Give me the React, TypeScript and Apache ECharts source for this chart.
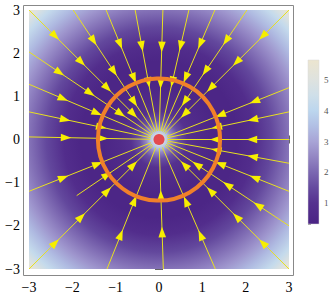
import React, { useEffect, useRef } from "react";
import * as echarts from "echarts";

// ---- data ----
const axisMin = -3;
const axisMax = 3;
// radial profile of the density (distance from the charge -> value)
const profileRadius = [0, 0.1, 0.2, 0.3, 0.45, 0.65, 0.9, 1.3, 1.8, 2.2, 2.6, 3.0, 3.3, 3.6, 3.9, 4.1, 4.243];
const profileValue = [5.6, 5.0, 3.6, 2.5, 1.6, 1.0, 0.7, 0.45, 0.45, 0.8, 1.45, 2.2, 2.75, 3.4, 4.2, 5.0, 5.6];
// colour scale of the legend
const colorValues = [0.32, 1, 1.5, 2, 2.5, 3, 3.5, 4, 4.5, 5, 5.65];
const colorList = ["#4a2384", "#55318f", "#654a9f", "#7b67b1", "#9386c3", "#a8a4d6", "#b1bfe4", "#bcd6ee", "#cfdfe9", "#dee2df", "#ece5cf"];
const legendMin = 0.32;
const legendMax = 5.65;
// stream lines: start points (all flow toward the charge at the origin)
const streamStartX = [-3, -1.98, -1.22, -0.55, 0.09, 0.69, 1.29, 2.03, 3, -3, -3, -3, -3, -3, -3, 3, 3, 3, 3, 3, 3, 3, -1.2, 0.1, 1.3, -1.9];
const streamStartY = [3, 3, 3, 3, 3, 3, 3, 3, 3, 2.03, 1.28, 0.64, 0.06, -1.2, -3, 1.2, 0.64, 0.0, -0.55, -1.2, -2.0, -3, -3, -3, -3, -1.3];
const circleRadius = [1.41];
const chargeX = [0];
const chargeY = [0];

function hexToRgb(h: string) {
  const n = parseInt(h.slice(1), 16);
  return [(n >> 16) & 255, (n >> 8) & 255, n & 255];
}
function cmap(v: number) {
  if (v <= colorValues[0]) return colorList[0];
  for (let i = 1; i < colorValues.length; i++) {
    if (v <= colorValues[i]) {
      const t = (v - colorValues[i - 1]) / (colorValues[i] - colorValues[i - 1]);
      const a = hexToRgb(colorList[i - 1]);
      const b = hexToRgb(colorList[i]);
      const c = a.map((x, k) => Math.round(x + (b[k] - x) * t));
      return `rgb(${c[0]},${c[1]},${c[2]})`;
    }
  }
  return colorList[colorList.length - 1];
}
const fmt = (v: number) => (v < 0 ? "\u2212" + Math.abs(v) : String(v));

export default function App() {
  const ref = useRef<HTMLDivElement>(null);
  useEffect(() => {
    const chart = echarts.init(ref.current!, null, { renderer: "svg" });
    const tickStyle = { color: "#666", width: 1 };
    const frameAxis = (pos: string, labels: boolean, isX: boolean) => ({
      gridIndex: 0,
      type: "value",
      min: axisMin,
      max: axisMax,
      interval: 1,
      position: pos,
      offset: 6,
      axisLine: { show: false },
      axisTick: { show: true, inside: true, length: 4, lineStyle: tickStyle },
      minorTick: { show: true, splitNumber: 5, length: 2, lineStyle: { color: "#888", width: 1 } },
      splitLine: { show: false },
      axisLabel: {
        show: labels,
        margin: isX ? 5 : 3,
        fontFamily: "Liberation Serif, serif",
        fontSize: 14,
        color: "#000",
        formatter: fmt,
      },
    });
    const spacing = 0.85;
    const option: any = {
      animation: false,
      grid: [
        { left: 29, top: 10, width: 260, height: 259 },
        { left: 308, top: 60, width: 11, height: 164 },
      ],
      xAxis: [
        frameAxis("bottom", true, true),
        frameAxis("top", false, true),
        { gridIndex: 1, type: "value", min: 0, max: 1, show: false },
      ],
      yAxis: [
        frameAxis("left", true, false),
        frameAxis("right", false, false),
        {
          gridIndex: 1,
          type: "value",
          min: legendMin,
          max: legendMax,
          splitNumber: 5,
          position: "right",
          axisLine: { show: false },
          axisTick: { show: true, length: 3, lineStyle: { color: "#999" } },
          minorTick: { show: true, splitNumber: 5, length: 2, lineStyle: { color: "#ccc" } },
          splitLine: { show: false },
          axisLabel: {
            margin: 5,
            fontSize: 9,
            fontFamily: "Liberation Serif, serif",
            color: "#555",
            formatter: (v: number) => (Math.abs(v - Math.round(v)) < 1e-6 ? String(Math.round(v)) : ""),
          },
        },
      ],
      graphic: [
        {
          type: "rect",
          shape: { x: 23.5, y: 5.5, width: 270, height: 270 },
          style: { fill: "none", stroke: "#888", lineWidth: 1 },
          z: 10,
        },
      ],
      series: [
        {
          type: "custom",
          xAxisIndex: 0,
          yAxisIndex: 0,
          z: 1,
          data: chargeX.map((x, i) => [x, chargeY[i]]),
          renderItem: (params: any, api: any) => {
            const c = api.coord([api.value(0), api.value(1)]);
            const tl = api.coord([axisMin, axisMax]);
            const br = api.coord([axisMax, axisMin]);
            const rMax = profileRadius[profileRadius.length - 1];
            const rPx = api.size([rMax, 0])[0];
            const stops = profileRadius.map((r, i) => ({ offset: r / rMax, color: cmap(profileValue[i]) }));
            return {
              type: "rect",
              shape: { x: tl[0], y: tl[1], width: br[0] - tl[0], height: br[1] - tl[1] },
              style: { fill: new echarts.graphic.RadialGradient(c[0], c[1], rPx, stops, true) },
            };
          },
        },
        {
          type: "custom",
          xAxisIndex: 0,
          yAxisIndex: 0,
          z: 2,
          data: streamStartX.map((x, i) => [x, streamStartY[i]]),
          renderItem: (params: any, api: any) => {
            const x0 = api.value(0);
            const y0 = api.value(1);
            const r0 = Math.hypot(x0, y0);
            const endR = 0.2;
            const p0 = api.coord([x0, y0]);
            const p1 = api.coord([(x0 * endR) / r0, (y0 * endR) / r0]);
            const dx = p1[0] - p0[0];
            const dy = p1[1] - p0[1];
            const len = Math.hypot(dx, dy);
            const ex = dx / len;
            const ey = dy / len;
            const children: any[] = [
              {
                type: "line",
                shape: { x1: p0[0], y1: p0[1], x2: p1[0], y2: p1[1] },
                style: { stroke: "#e8e020", lineWidth: 1 },
              },
            ];
            for (let s = spacing; r0 - s >= 0.8; s += spacing) {
              const r = r0 - s;
              const a = api.coord([(x0 * r) / r0, (y0 * r) / r0]);
              const tip = [a[0] + ex * 5.5, a[1] + ey * 5.5];
              const bx = a[0] - ex * 5;
              const by = a[1] - ey * 5;
              children.push({
                type: "polygon",
                shape: { points: [tip, [bx - ey * 3.8, by + ex * 3.8], [bx + ey * 3.8, by - ex * 3.8]] },
                style: { fill: "#f6ee00" },
              });
            }
            return { type: "group", children };
          },
        },
        {
          type: "custom",
          xAxisIndex: 0,
          yAxisIndex: 0,
          z: 3,
          data: circleRadius.map((r, i) => [chargeX[i] ?? 0, chargeY[i] ?? 0, r]),
          renderItem: (params: any, api: any) => {
            const c = api.coord([api.value(0), api.value(1)]);
            const r = api.size([api.value(2), 0])[0];
            return {
              type: "circle",
              shape: { cx: c[0], cy: c[1], r },
              style: { fill: "none", stroke: "#f0802a", lineWidth: 4 },
            };
          },
        },
        {
          type: "scatter",
          xAxisIndex: 0,
          yAxisIndex: 0,
          z: 4,
          symbolSize: 11,
          itemStyle: { color: "#e4242a" },
          data: chargeX.map((x, i) => [x, chargeY[i]]),
        },
        {
          type: "custom",
          xAxisIndex: 2,
          yAxisIndex: 2,
          z: 1,
          data: [[0, legendMin]],
          renderItem: (params: any, api: any) => {
            const top = api.coord([0, legendMax]);
            const bot = api.coord([1, legendMin]);
            const stops = colorValues.map((v, i) => ({
              offset: (legendMax - v) / (legendMax - legendMin),
              color: colorList[i],
            }));
            stops.reverse();
            return {
              type: "rect",
              shape: { x: top[0], y: top[1], width: bot[0] - top[0], height: bot[1] - top[1] },
              style: {
                fill: new echarts.graphic.LinearGradient(0, 0, 0, 1, stops),
                stroke: "#d8d8d8",
                lineWidth: 0.5,
              },
            };
          },
        },
      ],
    };
    chart.setOption(option);
    return () => chart.dispose();
  }, []);
  return (
    <div
      ref={ref}
      style={{ position: "fixed", left: 0, top: 0, width: 332, height: 295, background: "#fff" }}
    />
  );
}
